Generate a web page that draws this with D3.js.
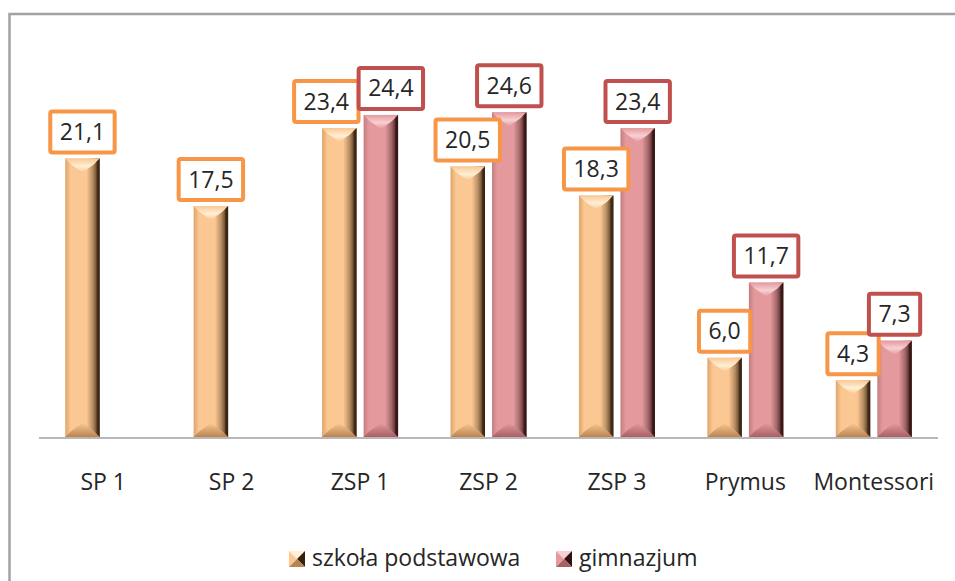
<!DOCTYPE html>
<html>
<head>
<meta charset="utf-8">
<script src="https://cdn.jsdelivr.net/npm/d3@7"></script>
<style>
  body { margin: 0; background: #fff; }
  text { font-family: "Open Sans", "Noto Sans", sans-serif; fill: #262626; }
</style>
</head>
<body>
<div id="chart"></div>
<script>
// --- data ---
const categories = ["SP 1", "SP 2", "ZSP 1", "ZSP 2", "ZSP 3", "Prymus", "Montessori"];
const podstawowa = [21.1, 17.5, 23.4, 20.5, 18.3, 6.0, 4.3];
const gimnazjum = [null, null, 24.4, 24.6, 23.4, 11.7, 7.3];
const seriesNames = ["szkoła podstawowa", "gimnazjum"];

// labels that were dragged sideways in the original (category -> [shift for series 0, series 1])
const labelNudge = { "ZSP 1": [-13, 10] };

const width = 955;
const height = 581;

// colours for each series: face, left edge, dark right edge, light top, bottom, label border
const palette = [
  { left: "#dfa46c", face: "#fbc792", dark: "#35200c", top: "#fff0d6", bottom: "#b9844f", border: "#f79646" },
  { left: "#c67d80", face: "#e49a9d", dark: "#321010", top: "#f8d0d2", bottom: "#a86064", border: "#c0504d" }
];

const svg = d3.select("#chart").append("svg")
  .attr("width", width)
  .attr("height", height);

const defs = svg.append("defs");
palette.forEach((p, i) => {
  const g = defs.append("linearGradient").attr("id", "face" + i)
    .attr("x1", "0").attr("x2", "1").attr("y1", "0").attr("y2", "0");
  g.append("stop").attr("offset", "0%").attr("stop-color", p.left);
  g.append("stop").attr("offset", "16%").attr("stop-color", p.face);
  g.append("stop").attr("offset", "62%").attr("stop-color", p.face);
  g.append("stop").attr("offset", "80%").attr("stop-color", d3.interpolateRgb(p.face, p.dark)(0.35));
  g.append("stop").attr("offset", "100%").attr("stop-color", p.dark);

  const t = defs.append("linearGradient").attr("id", "top" + i)
    .attr("x1", "0").attr("x2", "0").attr("y1", "0").attr("y2", "1");
  t.append("stop").attr("offset", "0%").attr("stop-color", p.face);
  t.append("stop").attr("offset", "55%").attr("stop-color", p.top);
  t.append("stop").attr("offset", "100%").attr("stop-color", p.face);

  const b = defs.append("linearGradient").attr("id", "bot" + i)
    .attr("x1", "0").attr("x2", "0").attr("y1", "0").attr("y2", "1");
  b.append("stop").attr("offset", "0%").attr("stop-color", p.face);
  b.append("stop").attr("offset", "100%").attr("stop-color", p.bottom);
});

// chart frame (runs off the right and bottom of the picture)
svg.append("rect")
  .attr("x", 9.5).attr("y", 14)
  .attr("width", 1000).attr("height", 700)
  .attr("fill", "none")
  .attr("stroke", "#a2a2a6")
  .attr("stroke-width", 2.5);

// --- scales ---
const x0 = d3.scaleBand().domain(categories).range([39, 938]);
const x1 = d3.scaleBand().domain([0, 1]).range([-38, 38]).paddingInner(0.17);
const y = d3.scaleLinear().domain([0, 30]).range([437, 41]);

const fmt = v => d3.format(".1f")(v).replace(".", ",");

const rows = [];
categories.forEach((c, i) => {
  [podstawowa[i], gimnazjum[i]].forEach((v, s) => {
    if (v != null) rows.push({ cat: c, s: s, v: v });
  });
});

const bars = svg.append("g").selectAll("g.bar")
  .data(rows)
  .join("g")
  .attr("class", "bar")
  .attr("transform", d => `translate(${x0(d.cat) + x0.bandwidth() / 2 + x1(d.s)},${y(d.v)})`);

bars.each(function(d) {
  const g = d3.select(this);
  const w = x1.bandwidth();
  const h = y(0) - y(d.v);
  const b = 6;
  const tip = Math.min(14, h / 2);
  g.append("rect").attr("width", w).attr("height", h).attr("fill", `url(#face${d.s})`);
  // top chevron
  g.append("path")
    .attr("d", `M0,0 L${w},0 L${w - b},${b} L${w / 2},${tip} L${b},${b} Z`)
    .attr("fill", `url(#top${d.s})`);
  // right dark edge
  g.append("path")
    .attr("d", `M${w},0 L${w},${h} L${w - 3},${h - 3} L${w - 3},3 Z`)
    .attr("fill", palette[d.s].dark).attr("opacity", 0.6);
  // bottom bevel
  g.append("path")
    .attr("d", `M0,${h} L${b},${h - b} L${w / 2},${h - tip} L${w - b},${h - b} L${w},${h} Z`)
    .attr("fill", `url(#bot${d.s})`);
});

// baseline
svg.append("line")
  .attr("x1", 39).attr("x2", 938)
  .attr("y1", 438).attr("y2", 438)
  .attr("stroke", "#a0a0a4")
  .attr("stroke-width", 1.6);

// --- data labels in boxes ---
const labels = svg.append("g").selectAll("g.lbl")
  .data(rows)
  .join("g")
  .attr("class", "lbl")
  .attr("transform", d => {
    const nudge = labelNudge[d.cat] ? labelNudge[d.cat][d.s] : 0;
    return `translate(${x0(d.cat) + x0.bandwidth() / 2 + x1(d.s) + x1.bandwidth() / 2 + nudge},${y(d.v) - 4})`;
  });

labels.each(function(d) {
  const g = d3.select(this);
  const rect = g.append("rect");
  const t = g.append("text")
    .attr("text-anchor", "middle")
    .attr("y", -14.5)
    .attr("font-size", 23)
    .text(fmt(d.v));
  const tw = t.node().getComputedTextLength();
  const bw = tw + 19, bh = 41;
  rect.attr("x", -bw / 2).attr("y", -bh - 2)
    .attr("width", bw).attr("height", bh)
    .attr("rx", 2)
    .attr("fill", "#fff")
    .attr("stroke", palette[d.s].border)
    .attr("stroke-width", 4);
});

// --- category axis labels ---
svg.append("g").selectAll("text")
  .data(categories)
  .join("text")
  .attr("x", d => x0(d) + x0.bandwidth() / 2)
  .attr("y", 490)
  .attr("text-anchor", "middle")
  .attr("font-size", 23)
  .text(d => d);

// --- legend ---
const legendX = [289, 556];
const legend = svg.append("g").selectAll("g")
  .data(seriesNames)
  .join("g")
  .attr("transform", (d, i) => `translate(${legendX[i]},551)`);

legend.each(function(d, i) {
  const g = d3.select(this);
  const p = palette[i];
  const s = 16;
  g.append("path").attr("d", `M0,0 L${s},0 L${s / 2},${s / 2} Z`).attr("fill", p.top);
  g.append("path").attr("d", `M0,0 L${s / 2},${s / 2} L0,${s} Z`).attr("fill", p.face);
  g.append("path").attr("d", `M${s},0 L${s},${s} L${s / 2},${s / 2} Z`).attr("fill", p.dark);
  g.append("path").attr("d", `M0,${s} L${s / 2},${s / 2} L${s},${s} Z`).attr("fill", p.bottom);
  g.append("text")
    .attr("x", 23)
    .attr("y", 15)
    .attr("font-size", 23)
    .text(d);
});
</script>
</body>
</html>
